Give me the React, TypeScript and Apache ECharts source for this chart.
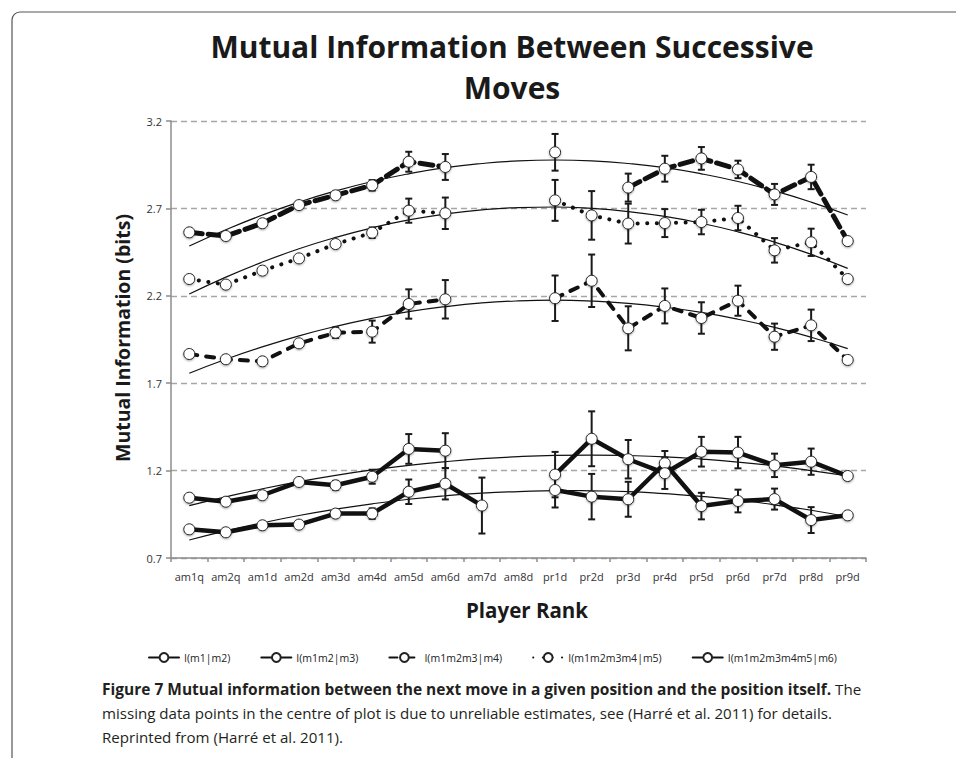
import React, { useEffect, useRef } from "react";
import * as echarts from "echarts";

const categories = ["am1q","am2q","am1d","am2d","am3d","am4d","am5d","am6d","am7d","am8d","pr1d","pr2d","pr3d","pr4d","pr5d","pr6d","pr7d","pr8d","pr9d"];

const seriesNames = ["I(m1|m2)", "I(m1m2|m3)", "I(m1m2m3|m4)", "I(m1m2m3m4|m5)", "I(m1m2m3m4m5|m6)"];

const valM2 = [0.864, 0.847, 0.887, 0.891, 0.954, 0.954, 1.079, 1.125, 1.0, null, 1.089, 1.051, 1.036, 1.242, 0.997, 1.026, 1.037, 0.917, 0.944];
const errM2 = [0, 0, 0, 0.01, 0.02, 0.03, 0.07, 0.09, 0.16, null, 0.1, 0.13, 0.1, 0.07, 0.076, 0.065, 0.06, 0.074, 0];

const valM3 = [1.045, 1.022, 1.059, 1.135, 1.116, 1.165, 1.324, 1.314, null, null, 1.177, 1.382, 1.265, 1.185, 1.308, 1.303, 1.23, 1.251, 1.169];
const errM3 = [0, 0, 0, 0.015, 0.025, 0.04, 0.085, 0.1, null, null, 0.13, 0.157, 0.11, 0.09, 0.085, 0.09, 0.067, 0.075, 0];

const valM4 = [1.867, 1.837, 1.825, 1.928, 1.989, 1.995, 2.153, 2.18, null, null, 2.186, 2.286, 2.014, 2.142, 2.073, 2.172, 1.966, 2.031, 1.833];
const errM4 = [0, 0, 0.01, 0.015, 0.03, 0.063, 0.084, 0.11, null, null, 0.13, 0.15, 0.126, 0.1, 0.09, 0.086, 0.075, 0.09, 0];

const valM5 = [2.296, 2.264, 2.344, 2.414, 2.496, 2.561, 2.687, 2.672, null, null, 2.746, 2.66, 2.613, 2.616, 2.622, 2.645, 2.46, 2.506, 2.296];
const errM5 = [0, 0, 0, 0.01, 0.02, 0.03, 0.069, 0.09, null, null, 0.117, 0.139, 0.114, 0.08, 0.07, 0.07, 0.07, 0.078, 0];

const valM6 = [2.563, 2.542, 2.615, 2.719, 2.775, 2.832, 2.967, 2.937, null, null, 3.021, null, 2.819, 2.927, 2.986, 2.923, 2.78, 2.88, 2.513];
const errM6 = [0, 0, 0, 0.01, 0.02, 0.03, 0.057, 0.074, null, null, 0.105, null, 0.08, 0.074, 0.065, 0.05, 0.06, 0.07, 0];

const trendM2 = [0.803, 0.855, 0.901, 0.943, 0.979, 1.010, 1.036, 1.056, 1.071, 1.080, 1.086, 1.084, 1.080, 1.068, 1.053, 1.032, 1.004, 0.973, 0.936];
const trendM3 = [1.000, 1.050, 1.096, 1.137, 1.173, 1.204, 1.230, 1.251, 1.268, 1.280, 1.287, 1.289, 1.286, 1.279, 1.266, 1.249, 1.227, 1.200, 1.169];
const trendM4 = [1.757, 1.837, 1.908, 1.971, 2.025, 2.071, 2.109, 2.138, 2.159, 2.171, 2.175, 2.170, 2.157, 2.135, 2.105, 2.066, 2.019, 1.963, 1.898];
const trendM5 = [2.210, 2.307, 2.393, 2.469, 2.534, 2.589, 2.634, 2.668, 2.692, 2.705, 2.708, 2.700, 2.682, 2.654, 2.615, 2.566, 2.507, 2.437, 2.357];
const trendM6 = [2.485, 2.578, 2.662, 2.736, 2.800, 2.854, 2.898, 2.933, 2.957, 2.972, 2.977, 2.972, 2.957, 2.933, 2.898, 2.854, 2.800, 2.736, 2.662];

const yTicks = { min: 0.7, max: 3.2, interval: 0.5 };

const FONT = "'Open Sans', 'Noto Sans', sans-serif";

function errData(vals: (number | null)[], errs: (number | null)[]) {
  const out: number[][] = [];
  vals.forEach((v, i) => {
    const e = errs[i];
    if (v != null && e != null && e > 0) out.push([i, v - e, v + e]);
  });
  return out;
}

const errRender = (params: any, api: any) => {
  const x = api.value(0);
  const lo = api.coord([x, api.value(1)]);
  const hi = api.coord([x, api.value(2)]);
  const w = 3.5;
  const st = { stroke: "#1a1a1a", lineWidth: 2 };
  return {
    type: "group",
    children: [
      { type: "line", shape: { x1: lo[0], y1: lo[1], x2: hi[0], y2: hi[1] }, style: st },
      { type: "line", shape: { x1: lo[0] - w, y1: lo[1], x2: lo[0] + w, y2: lo[1] }, style: st },
      { type: "line", shape: { x1: hi[0] - w, y1: hi[1], x2: hi[0] + w, y2: hi[1] }, style: st },
    ],
  };
};

export default function App() {
  const ref = useRef<HTMLDivElement>(null);
  useEffect(() => {
    if (!ref.current) return;
    const chart = echarts.init(ref.current, null, { renderer: "svg" });
    const vals = [valM2, valM3, valM4, valM5, valM6];
    const errs = [errM2, errM3, errM4, errM5, errM6];
    const trends = [trendM2, trendM3, trendM4, trendM5, trendM6];
    const lineTypes: any[] = ["solid", "solid", [8, 9], [0.1, 9.5], [13, 6]];
    const lineWidths = [4.5, 4.5, 4, 4, 5];

    const series: any[] = [];
    trends.forEach((t, k) => {
      series.push({
        name: "trend" + k,
        type: "line",
        data: t,
        smooth: true,
        showSymbol: false,
        symbol: "none",
        silent: true,
        z: 1,
        lineStyle: { color: "#111", width: 1.2 },
      });
    });
    errs.forEach((e, k) => {
      series.push({
        name: "err" + k,
        type: "custom",
        renderItem: errRender,
        data: errData(vals[k], e),
        encode: { x: 0, y: [1, 2] },
        z: 3,
        silent: true,
      });
    });
    vals.forEach((v, k) => {
      series.push({
        name: seriesNames[k],
        type: "line",
        data: v,
        connectNulls: false,
        symbol: "circle",
        symbolSize: 11,
        z: 4,
        itemStyle: {
          color: "#ffffff",
          borderColor: "#222",
          borderWidth: 1,
          shadowBlur: 2,
          shadowColor: "rgba(0,0,0,0.35)",
          shadowOffsetY: 1,
        },
        lineStyle: { color: "#111", width: lineWidths[k], type: lineTypes[k], cap: "round" },
      });
    });

    chart.setOption({
      animation: false,
      textStyle: { fontFamily: FONT },
      grid: { left: 171, right: 90, top: 121, bottom: 200, containLabel: false },
      legend: {
        data: seriesNames,
        top: 647,
        left: 143,
        itemWidth: 30,
        itemHeight: 11,
        itemGap: 30,
        textStyle: { fontSize: 10.5, color: "#222", fontFamily: FONT },
      },
      xAxis: {
        type: "category",
        data: categories,
        boundaryGap: true,
        axisLine: { lineStyle: { color: "#8c8c8c", width: 1.5 } },
        axisTick: { show: true, length: 4, lineStyle: { color: "#8c8c8c", width: 1.5 } },
        axisLabel: { fontSize: 11, color: "#333", margin: 13, interval: 0, fontFamily: FONT },
        splitLine: { show: false },
      },
      yAxis: {
        type: "value",
        min: yTicks.min,
        max: yTicks.max,
        interval: yTicks.interval,
        axisLine: { show: true, lineStyle: { color: "#8c8c8c", width: 1.5 } },
        axisTick: { show: true, length: 5, lineStyle: { color: "#8c8c8c", width: 1.5 } },
        axisLabel: {
          fontSize: 11,
          color: "#333",
          margin: 9,
          fontFamily: FONT,
          formatter: (v: number) => v.toFixed(1),
        },
        splitLine: { show: true, lineStyle: { color: "#a6a6a6", type: [6, 4], width: 1.3 } },
      },
      graphic: [
        {
          type: "rect",
          shape: { x: 12, y: 12, width: 1200, height: 1200, r: 8 },
          style: { fill: "none", stroke: "#555", lineWidth: 1.2 },
          silent: true,
        },
        {
          type: "text",
          x: 512,
          y: 67,
          style: {
            text: "Mutual Information Between Successive\nMoves",
            font: `bold 30px ${FONT}`,
            fill: "#1a1a1a",
            textAlign: "center",
            textVerticalAlign: "middle",
            lineHeight: 41,
          },
        },
        {
          type: "text",
          x: 122,
          y: 338,
          rotation: Math.PI / 2,
          style: {
            text: "Mutual Information (bits)",
            font: `bold 19.5px ${FONT}`,
            fill: "#1a1a1a",
            textAlign: "center",
            textVerticalAlign: "middle",
          },
        },
        {
          type: "text",
          x: 527,
          y: 610,
          style: {
            text: "Player Rank",
            font: `bold 20.5px ${FONT}`,
            fill: "#1a1a1a",
            textAlign: "center",
            textVerticalAlign: "middle",
          },
        },
        {
          type: "text",
          x: 102,
          y: 677,
          style: {
            text:
              "{b|Figure 7 Mutual information between the next move in a given position and the position itself.}{n| The}\n{n|missing data points in the centre of plot is due to unreliable estimates, see (Harré et al. 2011) for details.}\n{n|Reprinted from (Harré et al. 2011).}",
            lineHeight: 24,
            fill: "#231f20",
            rich: {
              b: { font: `bold 15.5px ${FONT}`, fill: "#231f20", lineHeight: 24 },
              n: { font: `15.1px ${FONT}`, fill: "#231f20", lineHeight: 24 },
            },
          },
        },
      ],
      series,
    });
    return () => chart.dispose();
  }, []);
  return (
    <div
      ref={ref}
      style={{ position: "fixed", left: 0, top: 0, width: 956, height: 758, background: "#fff" }}
    />
  );
}
